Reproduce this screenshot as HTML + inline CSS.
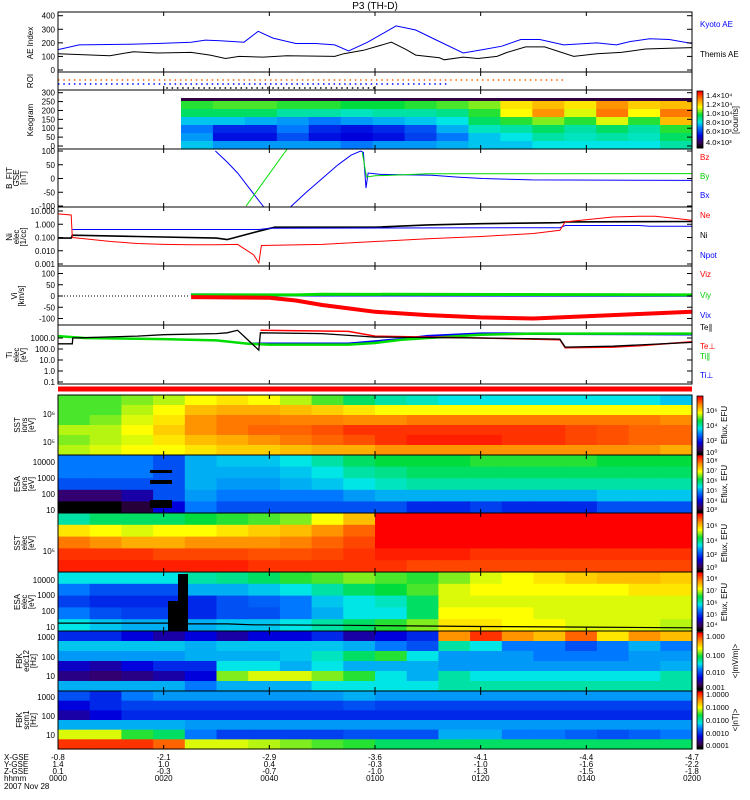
<!DOCTYPE html>
<html><head><meta charset="utf-8">
<style>
html,body{margin:0;padding:0;background:#fff;}
svg{display:block;font-family:"Liberation Sans",sans-serif;}
text{font-size:8px;}
</style></head>
<body>
<svg id="chart" width="750" height="800" viewBox="0 0 750 800" xmlns="http://www.w3.org/2000/svg">
<text x="375" y="9" text-anchor="middle" style="font-size:10px">P3 (TH-D)</text>
</svg>
<script>
// ---------- data ----------
const aeKyotoT=[0,4,13.6,18.8,25.2,27.9,30.7,35.2,37.9,40.7,45,48.8,52.4,55,58.6,64,67.7,71.4,76.7,80.4,84,87.6,91.2,95.7,102,105.7,108.3,112,115.7,120];
const aeKyoto=[150,185,190,195,205,220,215,205,285,235,195,195,185,140,205,325,295,225,125,150,175,225,225,185,200,185,210,230,225,195];
const aeThemisT=[0,9.8,14.3,18.8,25.2,28.8,31.7,34.3,38.8,43.3,52.4,54.1,57.8,63.1,65.9,67.7,72.2,73.1,76.7,79.5,83.1,85,88.5,92.1,97.6,102,106.6,111.2,115.7,120];
const aeThemis=[120,105,135,125,130,110,85,100,95,105,100,120,145,205,150,110,90,75,95,85,100,130,170,170,100,120,130,155,160,165];
const bxT1=[29.8,32,34,36,38.8,40.5];
const bx1=[100,60,20,-30,-100,-140];
const bxT2=[42.5,44.2,47,50,53,55.5,57.3,57.8,58.3,58.7,61,70.8,75.6,80.4,89.8,120];
const bx2=[-140,-100,-50,0,50,85,100,95,-35,20,15,12,5,0,-5,-7];
const byT1=[35.6,43.1,44];
const by1=[-100,100,120];
const byT2=[57.6,58.4,60,65,70,120];
const by2=[95,5,10,13,17,18];
const neT=[0,2.5,2.7,5,10,15,20,25,30,34,37,38,38.5,50,60,70,80,90,95,96,105,110,113,116,120];
const ne=[6,5,0.1,0.08,0.05,0.035,0.03,0.028,0.028,0.03,0.005,0.0012,0.025,0.03,0.05,0.08,0.12,0.2,0.35,1.5,3.5,4,4,3,2];
const niT=[0,2.5,2.7,15,30,32,38,41,60,70,80,95,96,120];
const ni=[0.09,0.09,0.15,0.12,0.09,0.07,0.3,0.6,0.6,0.9,1.1,1.3,1.5,1.6];
const npT=[2.7,38,40,95,96,110,112,120];
const np=[0.4,0.4,0.5,0.55,0.8,0.8,0.7,0.7];
const vzT=[25.2,40,45,50,55,60,70,80,90,100,110,120];
const vz=[-5,-8,-20,-40,-55,-70,-85,-95,-100,-90,-80,-70];
const vyT=[25.2,45,50,120];
const vy=[5,5,8,5];
const vxT=[25.2,120];
const vx=[5,3];
const tePT=[0,2.7,2.8,15,20,30,32,34,38,38.3,50,60,80,95,96,105,120];
const teP=[300,300,1000,1500,2000,2500,3000,5000,80,3000,2500,1200,1000,800,150,180,400];
const tePerpT=[38.3,55,60,80,95,96,105,110,120];
const tePerp=[5000,4000,1500,1000,700,130,150,200,450];
const tiPT=[0,5,20,30,36,40,55,60,65,70,80,90,120];
const tiP=[1500,1000,800,600,300,250,250,350,700,1000,2000,2500,2500];
const tiPerpT=[36,40,55,65,70,80,120];
const tiPerp=[300,300,300,800,1500,2500,2200];
const potT=[0,21.4,21.5,32,37,55,80,100,120];
const potE=[18,18,16,16,14,13,11,10,9];
const keogram=[
[.6,.62,.62,.6,.6,.58,.58,.6,.62,.65,.75,.8,.75,.85,.78,.8],
[.55,.55,.55,.5,.5,.48,.5,.5,.52,.6,.72,.85,.7,.88,.72,.88],
[.42,.42,.4,.38,.35,.38,.4,.42,.45,.55,.6,.65,.6,.7,.6,.8],
[.35,.25,.25,.35,.25,.22,.25,.3,.4,.48,.5,.55,.5,.55,.5,.6],
[.38,.22,.22,.3,.22,.2,.22,.28,.35,.42,.45,.5,.48,.5,.48,.55],
[.42,.38,.38,.38,.38,.35,.38,.38,.4,.42,.42,.45,.45,.45,.45,.5]];
const sstIon=[
[.62,.62,.65,.68,.72,.75,.72,.68,.62,.55,.5,.48,.45,.45,.45,.45,.45,.45,.45,.42],
[.62,.62,.68,.72,.8,.82,.82,.8,.78,.75,.72,.72,.72,.72,.72,.72,.72,.72,.72,.72],
[.62,.65,.7,.75,.85,.88,.88,.87,.87,.86,.86,.88,.88,.88,.88,.88,.88,.88,.88,.86],
[.68,.68,.72,.78,.85,.88,.9,.9,.92,.95,.95,.95,.95,.95,.95,.95,.93,.92,.9,.9],
[.65,.68,.7,.75,.8,.82,.85,.88,.9,.92,.95,.97,.97,.97,.95,.95,.93,.92,.9,.9],
[.68,.7,.72,.72,.75,.78,.78,.8,.82,.82,.85,.85,.85,.85,.85,.85,.85,.85,.85,.82]];
const esaIon=[
[.35,.35,.35,.3,.4,.42,.42,.45,.5,.55,.58,.58,.58,.6,.6,.6,.6,.58,.58,.58],
[.35,.35,.35,.3,.4,.4,.4,.42,.45,.5,.52,.55,.55,.55,.55,.55,.55,.55,.55,.55],
[.3,.3,.3,.3,.4,.38,.38,.4,.42,.45,.48,.5,.5,.5,.5,.5,.5,.5,.5,.5],
[.1,.1,.15,.3,.38,.35,.35,.35,.35,.38,.4,.4,.4,.4,.4,.4,.4,.42,.42,.42],
[0,0,.05,.2,.35,.3,.3,.3,.3,.3,.3,.25,.25,.28,.25,.25,.25,.3,.3,.3]];
const sstElec=[
[.5,.55,.55,.55,.58,.6,.62,.65,.72,.8,1,1,1,1,1,1,1,1,1,1],
[.75,.72,.7,.72,.72,.75,.78,.8,.85,.9,1,1,1,1,1,1,1,1,1,1],
[.88,.85,.82,.82,.85,.85,.85,.87,.9,.93,1,1,1,1,1,1,1,1,1,1],
[.95,.95,.95,.93,.93,.93,.92,.92,.93,.95,.97,.97,.97,.95,.95,.95,.95,.95,.95,.95],
[.97,.97,.97,.97,.97,.97,.95,.95,.95,.95,.95,.93,.93,.93,.93,.93,.93,.93,.93,.93]];
const esaElec=[
[.45,.45,.45,.45,.5,.52,.55,.6,.62,.65,.62,.6,.65,.7,.72,.75,.78,.8,.8,.78],
[.35,.3,.3,.3,.4,.4,.42,.45,.5,.55,.58,.62,.7,.72,.72,.72,.72,.72,.75,.75],
[.28,.25,.25,.25,.25,.3,.32,.35,.42,.45,.48,.55,.7,.7,.7,.7,.7,.7,.7,.7],
[.35,.3,.28,.28,.25,.3,.3,.35,.4,.45,.45,.55,.72,.72,.72,.7,.7,.7,.7,.7],
[.45,.42,.4,.4,.4,.42,.42,.45,.5,.55,.6,.65,.75,.75,.72,.72,.7,.7,.7,.68]];
const fbkEdc=[
[.25,.25,.2,.15,.2,.15,.2,.2,.25,.15,.2,.25,.85,.95,.85,.8,.9,.75,.85,.8],
[.42,.42,.42,.42,.4,.42,.42,.42,.42,.4,.35,.3,.5,.45,.35,.35,.3,.35,.4,.35],
[.38,.38,.38,.38,.4,.4,.4,.42,.48,.55,.6,.45,.38,.38,.38,.35,.35,.35,.38,.38],
[.18,.15,.2,.25,.25,.45,.45,.4,.45,.4,.4,.4,.38,.38,.38,.38,.38,.38,.38,.4],
[.12,.1,.12,.15,.2,.65,.7,.7,.65,.6,.45,.4,.5,.45,.45,.45,.45,.45,.45,.5],
[.4,.4,.4,.4,.35,.4,.4,.4,.45,.45,.45,.45,.5,.5,.5,.5,.5,.5,.5,.5]];
const fbkScm=[
[.3,.25,.35,.38,.38,.38,.38,.38,.38,.4,.38,.38,.38,.38,.38,.38,.38,.38,.38,.38],
[.2,.25,.28,.28,.28,.28,.28,.28,.28,.3,.28,.28,.28,.28,.28,.28,.28,.28,.28,.28],
[.15,.2,.25,.25,.25,.25,.25,.25,.25,.25,.25,.25,.25,.25,.25,.25,.25,.25,.25,.25],
[.4,.4,.4,.4,.38,.38,.38,.38,.38,.38,.38,.38,.38,.38,.38,.38,.38,.38,.38,.38],
[.7,.7,.6,.55,.35,.28,.28,.28,.28,.3,.3,.3,.4,.4,.35,.35,.32,.3,.32,.35],
[.95,.95,.95,.9,.7,.7,.68,.65,.62,.6,.55,.55,.55,.55,.55,.55,.55,.55,.55,.55]];
const xGse=['-0.8','-2.1','-2.9','-3.6','-4.1','-4.4','-4.7'];
const yGse=['1.4','1.0','0.4','-0.3','-1.0','-1.6','-2.2'];
const zGse=['0.1','-0.3','-0.7','-1.0','-1.3','-1.5','-1.8'];
const hhmm=['0000','0020','0040','0100','0120','0140','0200'];
const tickMin=[0,20,40,60,80,100,120];

// ---------- helpers ----------
const NS='http://www.w3.org/2000/svg';
const svg=document.getElementById('chart');
function mk(tag,attrs,parent){const e=document.createElementNS(NS,tag);for(const k in attrs)e.setAttribute(k,attrs[k]);(parent||svg).appendChild(e);return e;}
const X0=58,X1=692;
function X(t){return X0+t/120*(X1-X0);}
const stops=[[0,0,0,0],[.08,60,0,90],[.2,0,0,220],[.35,0,120,255],[.45,0,230,230],[.58,0,220,60],[.72,255,255,0],[.86,255,140,0],[1,255,0,0]];
function cmap(v){v=Math.max(0,Math.min(1,v));for(let i=1;i<stops.length;i++){if(v<=stops[i][0]){const a=stops[i-1],b=stops[i],f=(v-a[0])/(b[0]-a[0]);return 'rgb('+[1,2,3].map(j=>Math.round(a[j]+f*(b[j]-a[j]))).join(',')+')';}}return 'rgb(255,0,0)';}
let clipN=0;
function clip(x,y,w,h){const id='c'+(clipN++);const cp=mk('clipPath',{id:id});mk('rect',{x:x,y:y,width:w,height:h},cp);return 'url(#'+id+')';}
function path(ts,vs,yf){return ts.map((t,i)=>(i?'L':'M')+X(t).toFixed(1)+' '+yf(vs[i]).toFixed(1)).join(' ');}
function heat(grid,x0,x1,y0,y1,name){
  const g=mk('g',{});
  
  
  const rows=grid.length,cols=grid[0].length,w=(x1-x0)/cols,h=(y1-y0)/rows;
  grid.forEach((row,r)=>row.forEach((v,c)=>{
    const e=mk('rect',{x:(x0+c*w).toFixed(2),y:(y0+r*h).toFixed(2),width:(w+0.6).toFixed(2),height:(h+0.6).toFixed(2),fill:cmap(v)},g);
    
    
  }));
}
function frame(y0,y1,name){
  const e=mk('rect',{x:X0,y:y0,width:X1-X0,height:y1-y0,fill:'none',stroke:'#000','stroke-width':1});
  
  
  tickMin.forEach(t=>{
    const a=mk('line',{x1:X(t),x2:X(t),y1:y1,y2:y1-4,stroke:'#000'});
    
    
    const b=mk('line',{x1:X(t),x2:X(t),y1:y0,y2:y0+4,stroke:'#000'});
    
    
  });
}
function txt(x,y,s,opts){
  const e=mk('text',Object.assign({x:x,y:y},opts||{}));
  e.textContent=s;
  return e;
}
function ylab(x,y,lines,name){
  lines.forEach((s,i)=>{
    const e=txt(x+i*7,y,s,{'text-anchor':'middle',transform:'rotate(-90 '+(x+i*7)+' '+y+')'});
    
    
  });
}
function yticks(list,yf,name,color){
  list.forEach(([v,s])=>{
    const y=yf(v);
    const e=txt(55,y+3,s,{'text-anchor':'end'});
    
    
    const l=mk('line',{x1:X0,x2:X0+5,y1:y,y2:y,stroke:color||'#000'});
    
    
    const r=mk('line',{x1:X1-5,x2:X1,y1:y,y2:y,stroke:color||'#000'});
    
    
  });
}
function series(ts,vs,yf,color,clipUrl,name,sw){
  const e=mk('path',{d:path(ts,vs,yf),fill:'none',stroke:color,'stroke-width':sw||1,'clip-path':clipUrl});
  
  
}
function rlab(y,s,color,name){
  const e=txt(700,y,s,{fill:color});
  
  
}
function cbar(y0,y1,name,labels){
  const n=30,h=(y1-y0)/n;
  for(let i=0;i<n;i++){
    const e=mk('rect',{x:697,y:(y0+i*h).toFixed(2),width:6,height:(h+0.5).toFixed(2),fill:cmap(1-i/(n-1))});
    
    
  }
  const f=mk('rect',{x:697,y:y0,width:6,height:y1-y0,fill:'none',stroke:'#000','stroke-width':0.8});
  
  
  labels.forEach(([y,s])=>{
    const e=txt(706,y+3,s,{style:'font-size:7.5px'});
    
    
  });
}

// ---------- AE panel ----------
const yAE=v=>70-v/400*54.3;
const cAE=clip(X0,12,X1-X0,60);
series(aeKyotoT,aeKyoto,yAE,'#0000ff',cAE,'kyoto-ae-line');
series(aeThemisT,aeThemis,yAE,'#000',cAE,'themis-ae-line');
frame(12,72,'ae-panel');
yticks([[400,'400'],[300,'300'],[200,'200'],[100,'100'],[0,'0']],yAE,'ae');
ylab(33,43,['AE Index'],'ae');
rlab(27,'Kyoto AE','#0000ff','kyoto-ae-legend');
rlab(57,'Themis AE','#000','themis-ae-legend');

// ---------- ROI ----------
[[80,X(0),X(96),'#ff6600'],[84,X(0),X(73.5),'#0000ff'],[88,X(20.5),X(60),'#000']].forEach(([y,a,b,c])=>{
  const e=mk('line',{x1:a,x2:b,y1:y,y2:y,stroke:c,'stroke-width':1.6,'stroke-dasharray':'1.5 3.8'});
  
  
});
frame(72,90,'roi-panel');
ylab(33,81,['ROI'],'roi');

// ---------- Keogram ----------
const kx0=181;
const ks=mk('rect',{x:kx0,y:98,width:X1-kx0,height:3,fill:'#300040'});


heat(keogram,kx0,X1,101,149,'keogram-image');
frame(90,149,'keogram-panel');
const yK=v=>146-v/300*53.3;
yticks([[300,'300'],[250,'250'],[200,'200'],[150,'150'],[100,'100'],[50,'50'],[0,'0']],yK,'keogram');
ylab(33,120,['Keogram'],'keogram');
cbar(91,148,'keogram',[[95,'1.4×10⁴'],[104,'1.2×10⁴'],[113,'1.0×10⁴'],[122,'8.0×10³'],[131,'6.0×10³'],[142,'4.0×10³']]);
const kl=txt(738,120,'[counts]',{'text-anchor':'middle',transform:'rotate(-90 738 120)'});



// ---------- B ----------
const yB=v=>178.5-v*0.275;
const cB=clip(X0,149,X1-X0,58);
series(bxT1,bx1,yB,'#0000ff',cB,'bx-line');
series(bxT2,bx2,yB,'#0000ff',cB,'bx-line');
series(byT1,by1,yB,'#00dd00',cB,'by-line');
series(byT2,by2,yB,'#00dd00',cB,'by-line');
frame(149,207,'b-panel');
yticks([[100,'100'],[50,'50'],[0,'0'],[-50,'-50'],[-100,'-100']],yB,'b');
ylab(12,178,['B_FIT','GSE','[nT]'],'b');
rlab(160,'Bz','#ff0000','bz-legend');
rlab(179,'By','#00cc00','by-legend');
rlab(198,'Bx','#0000ff','bx-legend');

// ---------- N ----------
const yN=v=>211+(1-Math.log10(v))*13.25;
const cN=clip(X0,207,X1-X0,59);
series(niT,ni,yN,'#000',cN,'ni-line',1.6);
series(npT,np,yN,'#0000ff',cN,'npot-line');
series(neT,ne,yN,'#ff0000',cN,'ne-line');
frame(207,266,'n-panel');
yticks([[10,'10.000'],[1,'1.000'],[0.1,'0.100'],[0.01,'0.010'],[0.001,'0.001']],yN,'n');
ylab(12,237,['Ni','elec','[1/cc]'],'n');
rlab(218,'Ne','#ff0000','ne-legend');
rlab(238,'Ni','#000','ni-legend');
rlab(258,'Npot','#0000ff','npot-legend');

// ---------- V ----------
const yV=v=>296-v*0.225;
const cV=clip(X0,266,X1-X0,59);
const dz=mk('line',{x1:X(0),x2:X(25),y1:yV(0),y2:yV(0),stroke:'#000','stroke-dasharray':'1 2'});


series(vxT,vx,yV,'#0000ff',cV,'vix-line',3);
series(vyT,vy,yV,'#00dd00',cV,'viy-line',3);
series(vzT,vz,yV,'#ff0000',cV,'viz-line',4);
frame(266,325,'v-panel');
yticks([[100,'100'],[50,'50'],[0,'0'],[-50,'-50'],[-100,'-100']],yV,'v');
ylab(17,296,['Vi','[km/s]'],'v');
rlab(277,'Viz','#ff0000','viz-legend');
rlab(298,'Viy','#00cc00','viy-legend');
rlab(318,'Vix','#0000ff','vix-legend');

// ---------- T ----------
const yT=v=>338+(3-Math.log10(v))*11;
const cT=clip(X0,325,X1-X0,59);
series(tiPerpT,tiPerp,yT,'#0000ff',cT,'ti-perp-line',2.5);
series(tiPT,tiP,yT,'#00dd00',cT,'ti-par-line',2.5);
series(tePerpT,tePerp,yT,'#ff0000',cT,'te-perp-line',1.5);
series(tePT,teP,yT,'#000',cT,'te-par-line',1.3);
frame(325,384,'t-panel');
yticks([[1000,'1000.0'],[100,'100.0'],[10,'10.0'],[1,'1.0'],[0.1,'0.1']],yT,'t');
ylab(12,355,['Ti','elec','[eV]'],'t');
rlab(330,'Te∥','#000','te-par-legend');
rlab(349,'Te⊥','#ff0000','te-perp-legend');
rlab(359,'Ti∥','#00cc00','ti-par-legend');
rlab(378,'Ti⊥','#0000ff','ti-perp-legend');

// ---------- red bar ----------
const rb=mk('rect',{x:X0,y:386.5,width:X1-X0,height:5,fill:'#ff0000'});



// ---------- spectrograms ----------
heat(sstIon,X0,X1,395,455,'sst-ion-spectrogram');
frame(395,455,'sst-ion-panel');
ylab(20,425,['SST','ions','[eV]'],'sst-ion');
[[414,'10⁶'],[442,'10⁵']].forEach(([y,s])=>{const e=txt(55,y+3,s,{'text-anchor':'end'});});
cbar(396,455,'sst-ion',[[410,'10⁶'],[425,'10⁴'],[440,'10²'],[452,'10⁰']]);

heat(esaIon,X0,X1,455,513,'esa-ion-spectrogram');
[[470,473],[480,484],[500,508]].forEach(([a,b])=>{const e=mk('rect',{x:150,y:a,width:22,height:b-a,fill:'#000'});});
frame(455,513,'esa-ion-panel');
ylab(20,484,['ESA','ions','[eV]'],'esa-ion');
[[462,'10000'],[478,'1000'],[494,'100'],[510,'10']].forEach(([y,s])=>{const e=txt(55,y+3,s,{'text-anchor':'end'});});
cbar(455,513,'esa-ion',[[460,'10⁸'],[470,'10⁷'],[480,'10⁶'],[490,'10⁵'],[500,'10⁴'],[509,'10³']]);

heat(sstElec,X0,X1,513,572,'sst-elec-spectrogram');
frame(513,572,'sst-elec-panel');
ylab(20,543,['SST','elec','[eV]'],'sst-elec');
const se=txt(55,554,'10⁵',{'text-anchor':'end'});
cbar(513,572,'sst-elec',[[525,'10⁶'],[540,'10⁴'],[554,'10²'],[567,'10⁰']]);

heat(esaElec,X0,X1,572,631,'esa-elec-spectrogram');
const eb1=mk('rect',{x:168,y:601,width:10,height:30,fill:'#000'});
const eb2=mk('rect',{x:178,y:574,width:10,height:57,fill:'#000'});
const yE=e=>580+(4-Math.log10(e))*15.7;
series(potT,potE,yE,'#000',clip(X0,572,X1-X0,59),'spacecraft-potential-line',1.2);
frame(572,631,'esa-elec-panel');
ylab(20,602,['ESA','elec','[eV]'],'esa-elec');
[[580,'10000'],[595,'1000'],[611,'100'],[627,'10']].forEach(([y,s])=>{const e=txt(55,y+3,s,{'text-anchor':'end'});});
cbar(572,631,'esa-elec',[[578,'10⁸'],[590,'10⁷'],[602,'10⁶'],[614,'10⁵'],[624,'10⁴']]);

heat(fbkEdc,X0,X1,631,691,'fbk-edc12-spectrogram');
frame(631,691,'fbk-edc12-panel');
ylab(22,661,['FBK','edc12','[Hz]'],'fbk-edc12');
[[637,'1000'],[657,'100'],[676,'10']].forEach(([y,s])=>{const e=txt(55,y+3,s,{'text-anchor':'end'});});
cbar(632,690,'fbk-edc12',[[636,'1.000'],[655,'0.100'],[672,'0.010'],[687,'0.001']]);

heat(fbkScm,X0,X1,691,749,'fbk-scm1-spectrogram');
frame(691,749,'fbk-scm1-panel');
ylab(22,720,['FBK','scm1','[Hz]'],'fbk-scm1');
[[697,'1000'],[716,'100'],[735,'10']].forEach(([y,s])=>{const e=txt(55,y+3,s,{'text-anchor':'end'});});
cbar(691,749,'fbk-scm1',[[694,'1.0000'],[707,'0.1000'],[720,'0.0100'],[733,'0.0010'],[745,'0.0001']]);

[[727,425,'Eflux, EFU'],[727,484,'Eflux, EFU'],[727,543,'Eflux, EFU'],[727,602,'Eflux, EFU'],[738,661,'<|mV/m|>'],[738,720,'<|nT|>']].forEach(([x,y,s])=>{
  const e=txt(x,y,s,{'text-anchor':'middle',transform:'rotate(-90 '+x+' '+y+')'});
  
  
});

// ---------- bottom axis labels ----------
[['X-GSE',760],['Y-GSE',767],['Z-GSE',774],['hhmm',781],['2007 Nov 28',789]].forEach(([s,y])=>{
  const e=txt(4,y,s);
  
  
});
[[xGse,760],[yGse,767],[zGse,774],[hhmm,781]].forEach(([arr,y])=>{
  arr.forEach((s,i)=>{
    const e=txt(X(tickMin[i]),y,s,{'text-anchor':'middle'});
    
    
  });
});
</script>
</body></html>
